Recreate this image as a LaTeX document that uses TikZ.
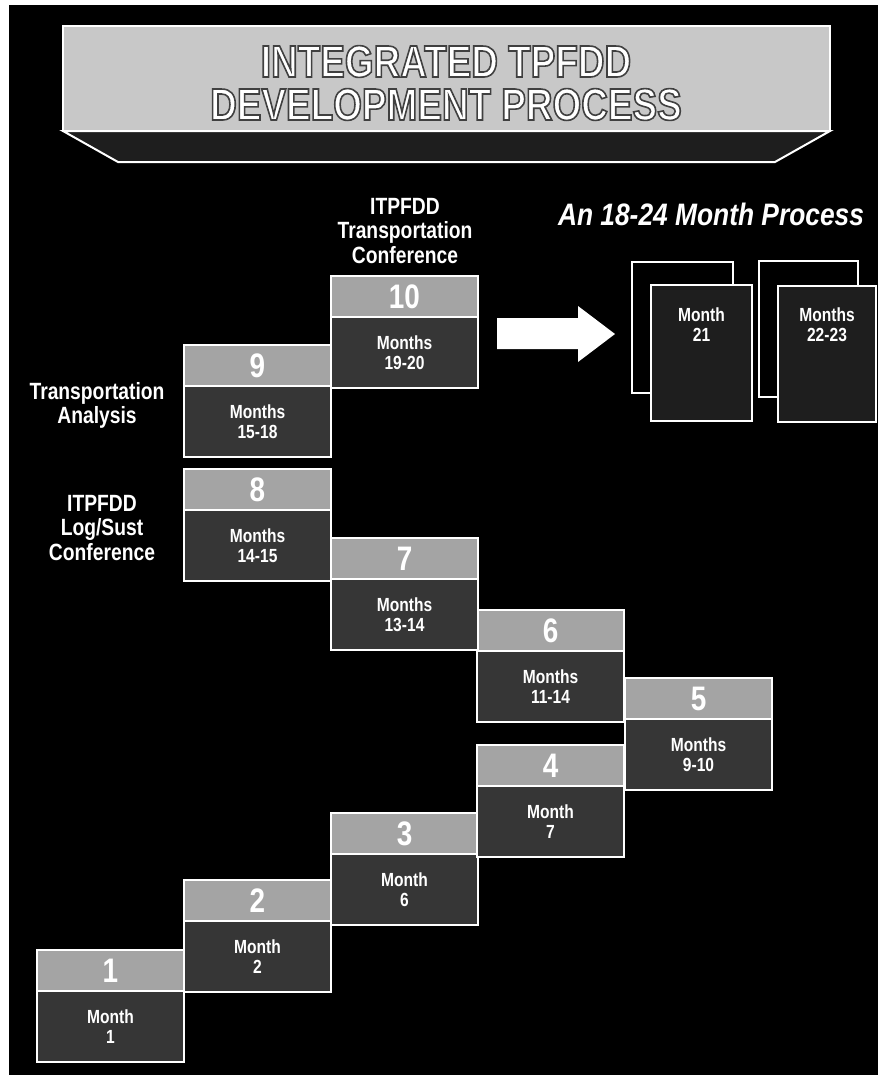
\documentclass[tikz,border=0pt]{standalone}
\usepackage{fontspec}
\setmainfont{Liberation Sans}
\newfontfamily\cond[FakeStretch=0.82]{Liberation Sans}
\newfontfamily\condi[FakeStretch=0.85]{Liberation Sans}
\definecolor{hdr}{HTML}{A4A4A4}
\definecolor{bdy}{HTML}{363636}
\definecolor{bannerfill}{HTML}{C8C8C8}
\definecolor{bevel}{HTML}{1E1E1E}
\definecolor{pagefill}{HTML}{1E1E1E}
\newcommand\mkstep[5]{%
  \node[hdrbox] (#1h) at (#2,#3) {#4};
  \node[bodybox] (#1) at (#2,#3+41) {#5};}
\newcommand\outl[1]{\special{pdf:literal direct 0.25 0.25 0.25 RG 1.6 w 2 Tr}#1\special{pdf:literal direct 0 Tr}}
\begin{document}
\begin{tikzpicture}[x=1pt,y=-1pt,
  every node/.style={inner sep=0pt, outer sep=0pt},
  hdrbox/.style={draw=white, line width=2.6pt, fill=hdr, minimum width=147pt, minimum height=41pt,
    anchor=north west, text=white, font=\cond\bfseries\fontsize{34}{34}\selectfont},
  bodybox/.style={draw=white, line width=2.6pt, fill=bdy, minimum width=147pt, minimum height=71pt,
    anchor=north west, align=center, text=white, font=\cond\bfseries\fontsize{19}{20}\selectfont},
  backpage/.style={draw=white, line width=2.6pt, fill=black, anchor=north west},
  frontpage/.style={draw=white, line width=2.6pt, fill=pagefill, anchor=north west},
  monthtxt/.style={align=center, text=white, font=\cond\bfseries\fontsize{19}{20}\selectfont},
  lbl/.style={align=center, text=white, font=\cond\bfseries\fontsize{23.5}{24.5}\selectfont},
  titletxt/.style={text=white, font=\cond\bfseries\fontsize{45}{45}\selectfont}]
\useasboundingbox (0,0) rectangle (878,1077);
\fill[white] (0,0) rectangle (878,1077);
\fill[black] (9,5) rectangle (878,1075);
% title banner
\filldraw[fill=bevel, draw=white, line width=2pt] (63,131) -- (118,162) -- (775,162) -- (830,131) -- cycle;
\filldraw[fill=bannerfill, draw=white, line width=2pt] (63,26) rectangle (830,131);
\node[titletxt, anchor=base] (t1) at (446,77) {\outl{INTEGRATED TPFDD}};
\node[titletxt, anchor=base] (t2) at (446,120) {\outl{DEVELOPMENT PROCESS}};
% heading at right
\node[anchor=base west, text=white, font=\condi\bfseries\itshape\fontsize{31}{31}\selectfont] (proc) at (558,225) {An 18-24 Month Process};
% labels
\node[lbl, anchor=north] (ttc) at (405,198) {ITPFDD\\Transportation\\Conference};
\node[lbl, anchor=north] (ta) at (97,382) {Transportation\\Analysis};
\node[lbl, anchor=north] (lsc) at (102,495) {ITPFDD\\Log/Sust\\Conference};
% steps
\mkstep{s1}{37}{950}{1}{Month\\1}
\mkstep{s2}{184}{880}{2}{Month\\2}
\mkstep{s3}{331}{813}{3}{Month\\6}
\mkstep{s4}{477}{745}{4}{Month\\7}
\mkstep{s5}{625}{678}{5}{Months\\9-10}
\mkstep{s6}{477}{610}{6}{Months\\11-14}
\mkstep{s7}{331}{538}{7}{Months\\13-14}
\mkstep{s8}{184}{469}{8}{Months\\14-15}
\mkstep{s9}{184}{345}{9}{Months\\15-18}
\mkstep{s10}{331}{276}{10}{Months\\19-20}
% big arrow
\fill[white] (497,318) -- (578,318) -- (578,306) -- (615,334) -- (578,362) -- (578,349) -- (497,349) -- cycle;
% pages
\node[backpage, minimum width=101pt, minimum height=131pt] (p1b) at (632,262) {};
\node[frontpage, minimum width=101pt, minimum height=136pt] (p1) at (651,285) {};
\node[monthtxt, anchor=north] (p1t) at (701.5,308) {Month\\21};
\node[backpage, minimum width=99pt, minimum height=136pt] (p2b) at (759,261) {};
\node[frontpage, minimum width=98pt, minimum height=136pt] (p2) at (778,286) {};
\node[monthtxt, anchor=north] (p2t) at (827,308) {Months\\22-23};
\end{tikzpicture}
\end{document}
